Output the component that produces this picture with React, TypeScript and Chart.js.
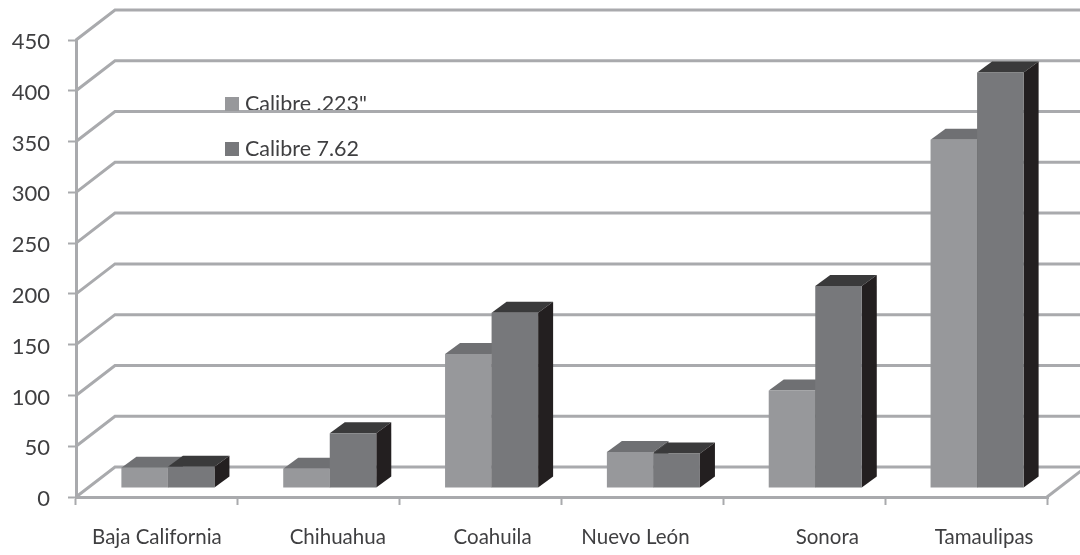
import React, { useEffect, useRef } from "react";
import { Chart, registerables } from "chart.js";

Chart.register(...registerables);

const categories = ["Baja California", "Chihuahua", "Coahuila", "Nuevo León", "Sonora", "Tamaulipas"];
const calibre223 = [21, 20, 133, 36.5, 97, 344];
const calibre762 = [22, 55, 173.5, 35, 200, 410];

const FONT = "Lato, 'Open Sans', sans-serif";
const GRID = "#a9aaad";
const INK = "#3f3f41";
const labelNudges = [0, 19, 12, -7, 23, 18];
const faces = [
  { front: "#97989b", top: "#6f7073", side: "#4a4a4c" },
  { front: "#77787b", top: "#3a3a3b", side: "#231f20" },
];
const LEGEND_PAD = 23.5;
const LEGEND_FONT = 21.5;
const LEGEND_BOX = 14;

const threeD = {
  id: "threeD",
  afterLayout(chart: any) {
    const lg = chart.legend;
    if (lg) {
      lg.left = 225 - LEGEND_PAD;
      lg.right = lg.left + lg.width;
      lg.top = 69.75;
      lg.bottom = lg.top + lg.height;
    }
  },
  beforeDraw(chart: any) {
    const x = chart.scales.x;
    const items = x.getLabelItems();
    if (!items._nudged) {
      items._nudged = true;
      items.forEach((it: any, i: number) => {
        it.options.translation = [it.options.translation[0] + labelNudges[i], it.options.translation[1]];
      });
    }
  },
  beforeDatasetsDraw(chart: any) {
    const { ctx, chartArea, scales } = chart;
    const y = scales.y;
    const wallDx = 39;
    const wallDy = -30;
    ctx.save();
    ctx.strokeStyle = GRID;
    ctx.lineWidth = 3;
    ctx.lineJoin = "miter";
    y.ticks.forEach((t: any) => {
      const py = y.getPixelForValue(t.value);
      ctx.beginPath();
      ctx.moveTo(chartArea.left, py);
      ctx.lineTo(chartArea.left + wallDx, py + wallDy);
      ctx.lineTo(chart.width, py + wallDy);
      ctx.stroke();
    });
    const by = y.getPixelForValue(0);
    ctx.beginPath();
    ctx.moveTo(chartArea.right, by);
    ctx.lineTo(chartArea.right + wallDx, by + wallDy);
    ctx.stroke();
    ctx.restore();

    // Bars stand in the middle of the floor, so they are shifted along the depth.
    const shiftX = 11;
    const shiftY = -8;
    const dx = 15;
    const dy = -11;
    ctx.save();
    ctx.translate(shiftX, shiftY);
    categories.forEach((_, c) => {
      chart.data.datasets.forEach((_d: any, s: number) => {
        const el = chart.getDatasetMeta(s).data[c];
        const { x: cx, y: top, base, width } = el.getProps(["x", "y", "base", "width"], true);
        const l = cx - width / 2;
        const r = cx + width / 2;
        ctx.fillStyle = faces[s].top;
        ctx.beginPath();
        ctx.moveTo(l, top);
        ctx.lineTo(l + dx, top + dy);
        ctx.lineTo(r + dx, top + dy);
        ctx.lineTo(r, top);
        ctx.closePath();
        ctx.fill();
        ctx.fillStyle = faces[s].side;
        ctx.beginPath();
        ctx.moveTo(r, top);
        ctx.lineTo(r + dx, top + dy);
        ctx.lineTo(r + dx, base + dy);
        ctx.lineTo(r, base);
        ctx.closePath();
        ctx.fill();
        el.draw(ctx);
      });
    });
    ctx.restore();
    return false;
  },
  afterDraw(chart: any) {
    // Widen the legend swatches without widening the gap before their text.
    const { ctx, legend } = chart;
    if (!legend) return;
    const rowHeight = LEGEND_FONT + LEGEND_PAD;
    chart.data.datasets.forEach((d: any, i: number) => {
      ctx.fillStyle = d.backgroundColor;
      ctx.fillRect(
        legend.left + LEGEND_PAD,
        legend.top + LEGEND_PAD + i * rowHeight + (LEGEND_FONT - LEGEND_BOX) / 2,
        LEGEND_BOX,
        LEGEND_BOX,
      );
    });
  },
};

export default function App() {
  const ref = useRef<HTMLCanvasElement>(null);
  useEffect(() => {
    const chart = new Chart(ref.current!, {
      type: "bar",
      data: {
        labels: categories,
        datasets: [
          { label: 'Calibre .223"', data: calibre223, backgroundColor: faces[0].front, categoryPercentage: 0.575, barPercentage: 1 },
          { label: "Calibre 7.62", data: calibre762, backgroundColor: faces[1].front, categoryPercentage: 0.575, barPercentage: 1 },
        ],
      },
      options: {
        responsive: false,
        animation: false,
        layout: { padding: { top: 40, right: 33, left: 0, bottom: 0 } },
        plugins: {
          tooltip: { enabled: false },
          legend: {
            position: "chartArea" as any,
            align: "start",
            labels: {
              boxWidth: 9.25,
              boxHeight: LEGEND_BOX,
              padding: LEGEND_PAD,
              color: INK,
              font: { family: FONT, size: LEGEND_FONT },
            },
          },
        },
        scales: {
          x: {
            afterFit: (s: any) => { s.height = 58; },
            grid: { color: GRID, lineWidth: 3, drawOnChartArea: false, tickLength: 8, tickWidth: 2, tickColor: GRID },
            border: { color: GRID, width: 3 },
            ticks: { color: INK, font: { family: FONT, size: 20.5 }, padding: 20, maxRotation: 0 },
          },
          y: {
            min: 0,
            max: 450,
            afterFit: (s: any) => { s.width = 76; },
            grid: { color: GRID, lineWidth: 3, drawOnChartArea: false, tickLength: 8, tickWidth: 2, tickColor: GRID },
            border: { color: GRID, width: 3 },
            ticks: { stepSize: 50, color: INK, font: { family: FONT, size: 22 }, padding: 18, labelOffset: 2 },
          },
        },
      },
      plugins: [threeD],
    });
    return () => chart.destroy();
  }, []);
  return (
    <div style={{ position: "fixed", left: 0, top: 0, width: 1080, height: 555, background: "#fff" }}>
      <canvas ref={ref} width={1080} height={555} style={{ display: "block" }} />
    </div>
  );
}
